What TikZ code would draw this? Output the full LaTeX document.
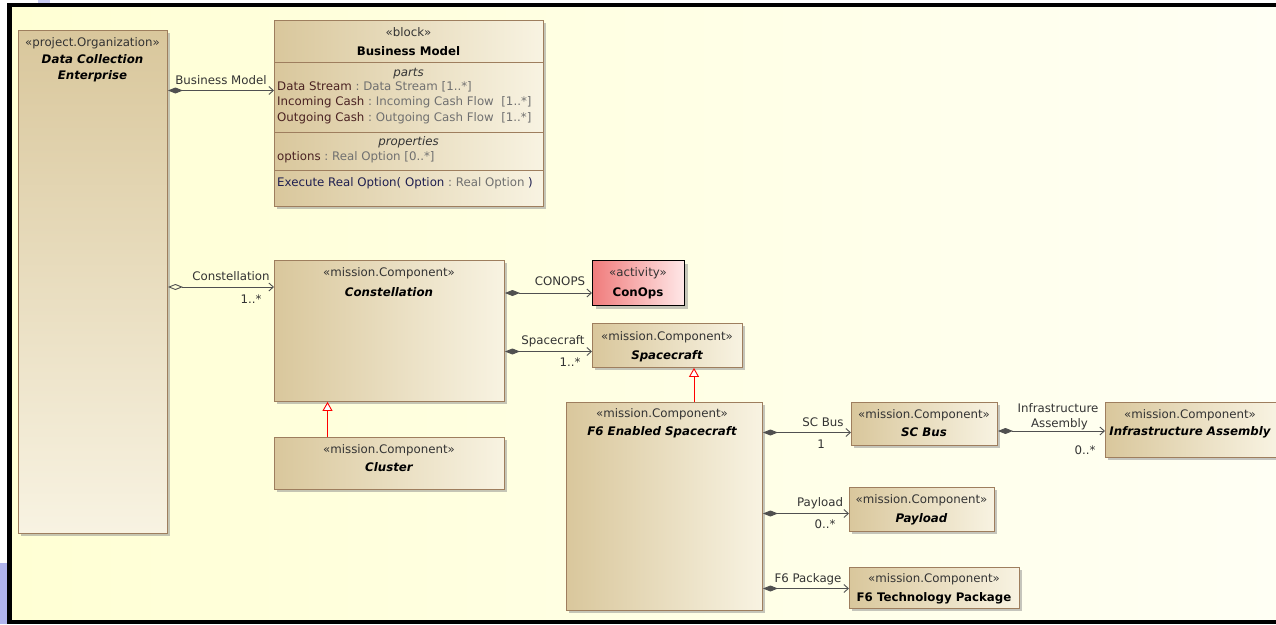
\documentclass[tikz,border=0pt]{standalone}
\usepackage{fontspec}
\setmainfont{DejaVu Sans}
\usetikzlibrary{arrows.meta,shadows,calc}
\definecolor{boxdark}{HTML}{D9C79C}
\definecolor{boxlight}{HTML}{F8F3E2}
\definecolor{boxedge}{HTML}{9E7E5E}
\definecolor{bgleft}{HTML}{FFFFD4}
\definecolor{bgright}{HTML}{FFFFF4}
\definecolor{linegray}{HTML}{505050}
\definecolor{txtgray}{HTML}{333333}
\definecolor{typegray}{HTML}{707070}
\definecolor{partred}{HTML}{4A2222}
\definecolor{opblue}{HTML}{1E1E50}
\definecolor{pinkdark}{HTML}{F07C7C}
\definecolor{pinklight}{HTML}{FFE8E8}
\definecolor{sideblue}{HTML}{B0B4EC}
\begin{document}
\begin{tikzpicture}[x=1pt,y=-1pt,
  font=\fontsize{11.8}{14}\selectfont,
  shadowed/.style={drop shadow={shadow xshift=3pt,shadow yshift=-3pt,fill=black!45,opacity=0.5}},
  ublock/.style={draw=boxedge,line width=0.9pt,left color=boxdark,right color=boxlight,
    anchor=north west,inner sep=0pt,shadowed},
  vblock/.style={draw=boxedge,line width=0.9pt,top color=boxdark,bottom color=boxlight,
    anchor=north west,inner sep=0pt,shadowed},
  actblock/.style={draw=black,line width=1.1pt,left color=pinkdark,right color=pinklight,
    anchor=north west,inner sep=0pt,shadowed},
  txt/.style={inner sep=0pt,text height=8.5pt,text depth=2.5pt},
  stereo/.style={txt,text=txtgray},
  title/.style={txt,text=black,font=\fontsize{11.8}{14}\selectfont\bfseries\itshape},
  btitle/.style={txt,text=black,font=\fontsize{11.8}{14}\selectfont\bfseries},
  lbl/.style={txt,text=txtgray},
  row/.style={txt,anchor=west},
  comp/.style={draw=linegray,line width=0.9pt,
    {Diamond[length=15pt,width=6pt,fill=linegray]}-{Straight Barb[length=4.5pt,width=8pt]}},
  shared/.style={draw=linegray,line width=0.9pt,
    {Diamond[length=15pt,width=6pt,open]}-{Straight Barb[length=4.5pt,width=8pt]}},
  gen/.style={draw=red,line width=0.9pt,-{Triangle[length=9pt,width=10pt,fill=white]}}
]
\useasboundingbox (0,0) rectangle (1276,624);
% background and frame
\fill[white] (0,0) rectangle (1276,624);
\fill[sideblue] (0,563) rectangle (7,624);
\fill[sideblue!70] (38,0) rectangle (50,3);
\shade[left color=bgleft,right color=bgright] (12,7) rectangle (1276,620);
\fill[black] (7,3) rectangle (1276,7);
\fill[black] (7,3) rectangle (12,624);
\fill[black] (7,620) rectangle (1276,624);

% blocks
\node[vblock,minimum width=149pt,minimum height=503pt] (dce) at (18,30) {};
\node[ublock,minimum width=269pt,minimum height=186pt] (bm) at (274,20) {};
\node[ublock,minimum width=230pt,minimum height=141pt] (constel) at (274,260) {};
\node[actblock,minimum width=92pt,minimum height=45pt] (conops) at (592,260) {};
\node[ublock,minimum width=150pt,minimum height=44pt] (sc) at (592,323) {};
\node[ublock,minimum width=230pt,minimum height=52pt] (cluster) at (274,437) {};
\node[ublock,minimum width=196pt,minimum height=208pt] (f6) at (566,402) {};
\node[ublock,minimum width=146pt,minimum height=43pt] (scbus) at (851,402) {};
\node[ublock,minimum width=172pt,minimum height=55pt] (infra) at (1105,402) {};
\node[ublock,minimum width=145pt,minimum height=44pt] (payload) at (849,487) {};
\node[ublock,minimum width=170pt,minimum height=41pt] (f6tp) at (849,567) {};

% block texts
\node[stereo] (dceS) at (92.5,43) {«project.Organization»};
\node[title] (dceT1) at (92.5,60) {Data Collection};
\node[title] (dceT2) at (92.5,76) {Enterprise};

\node[stereo] (bmS) at (408.5,33) {«block»};
\node[btitle] (bmT) at (408.5,52) {Business Model};
\draw[boxedge,line width=0.9pt] (bm.west |- 0,62) -- (bm.east |- 0,62);
\draw[boxedge,line width=0.9pt] (bm.west |- 0,132) -- (bm.east |- 0,132);
\draw[boxedge,line width=0.9pt] (bm.west |- 0,170) -- (bm.east |- 0,170);
\node[txt,text=txtgray,font=\fontsize{11.8}{14}\selectfont\itshape] (bmP) at (408.5,73) {parts};
\node[row] (bmR1) at (277,87.5) {\textcolor{partred}{Data Stream}\ \textcolor{typegray}{:\ Data Stream [1..*]}};
\node[row] (bmR2) at (277,102.5) {\textcolor{partred}{Incoming Cash}\ \textcolor{typegray}{:\ Incoming Cash Flow\ \ [1..*]}};
\node[row] (bmR3) at (277,118) {\textcolor{partred}{Outgoing Cash}\ \textcolor{typegray}{:\ Outgoing Cash Flow\ \ [1..*]}};
\node[txt,text=txtgray,font=\fontsize{11.8}{14}\selectfont\itshape] (bmQ) at (408.5,142) {properties};
\node[row] (bmR4) at (277,157.5) {\textcolor{partred}{options}\ \textcolor{typegray}{:\ Real Option [0..*]}};
\node[row] (bmR5) at (277,183.5) {\textcolor{opblue}{Execute Real Option(\ Option}\ \textcolor{typegray}{:\ Real Option}\ \textcolor{opblue}{)}};

\node[stereo] (constelS) at (389,273) {«mission.Component»};
\node[title] (constelT) at (389,293) {Constellation};
\node[stereo] (conopsS) at (638,273) {«activity»};
\node[btitle] (conopsT) at (638,293) {ConOps};
\node[stereo] (scS) at (667,337) {«mission.Component»};
\node[title] (scT) at (667,356) {Spacecraft};
\node[stereo] (clusterS) at (389,450) {«mission.Component»};
\node[title] (clusterT) at (389,468.5) {Cluster};
\node[stereo] (f6S) at (662,414) {«mission.Component»};
\node[title] (f6T) at (662,432) {F6 Enabled Spacecraft};
\node[stereo] (scbusS) at (924,415) {«mission.Component»};
\node[title] (scbusT) at (924,433) {SC Bus};
\node[stereo] (infraS) at (1190,415) {«mission.Component»};
\node[title] (infraT) at (1190,432.5) {Infrastructure Assembly};
\node[stereo] (payloadS) at (921.5,500.5) {«mission.Component»};
\node[title] (payloadT) at (921.5,519) {Payload};
\node[stereo] (f6tpS) at (934,579) {«mission.Component»};
\node[btitle] (f6tpT) at (934,598.5) {F6 Technology Package};

% connectors
\coordinate (yBM) at (0,90.5);
\coordinate (yCo) at (0,287);
\coordinate (yCP) at (0,293);
\coordinate (ySC) at (0,351.5);
\coordinate (yBus) at (0,432.5);
\coordinate (yInf) at (0,431);
\coordinate (yPay) at (0,513.5);
\coordinate (yPkg) at (0,588.5);

\draw[comp] (dce.east |- yBM) -- (bm.west |- yBM);
\node[lbl] (lBM) at (221,81) {Business Model};

\draw[shared] (dce.east |- yCo) -- (constel.west |- yCo);
\node[lbl] (lCo) at (231,277) {Constellation};
\node[lbl] (mCo) at (251,300) {1..*};

\draw[comp] (constel.east |- yCP) -- (conops.west |- yCP);
\node[lbl] (lCP) at (560,282) {CONOPS};

\draw[comp] (constel.east |- ySC) -- (sc.west |- ySC);
\node[lbl] (lSC) at (553,341) {Spacecraft};
\node[lbl] (mSC) at (570,363) {1..*};

\draw[gen] (cluster.north -| 327.5,0) -- (constel.south -| 327.5,0);
\draw[gen] (f6.north -| 694,0) -- (sc.south -| 694,0);

\draw[comp] (f6.east |- yBus) -- (scbus.west |- yBus);
\node[lbl] (lBus) at (823,423) {SC Bus};
\node[lbl] (mBus) at (821,445) {1};

\draw[comp] (scbus.east |- yInf) -- (infra.west |- yInf);
\node[lbl] (lInf1) at (1058,409) {Infrastructure};
\node[lbl] (lInf2) at (1059.5,424) {Assembly};
\node[lbl] (mInf) at (1085,451) {0..*};

\draw[comp] (f6.east |- yPay) -- (payload.west |- yPay);
\node[lbl] (lPay) at (820,503) {Payload};
\node[lbl] (mPay) at (825,525) {0..*};

\draw[comp] (f6.east |- yPkg) -- (f6tp.west |- yPkg);
\node[lbl] (lPkg) at (808,579) {F6 Package};
\end{tikzpicture}
\end{document}
